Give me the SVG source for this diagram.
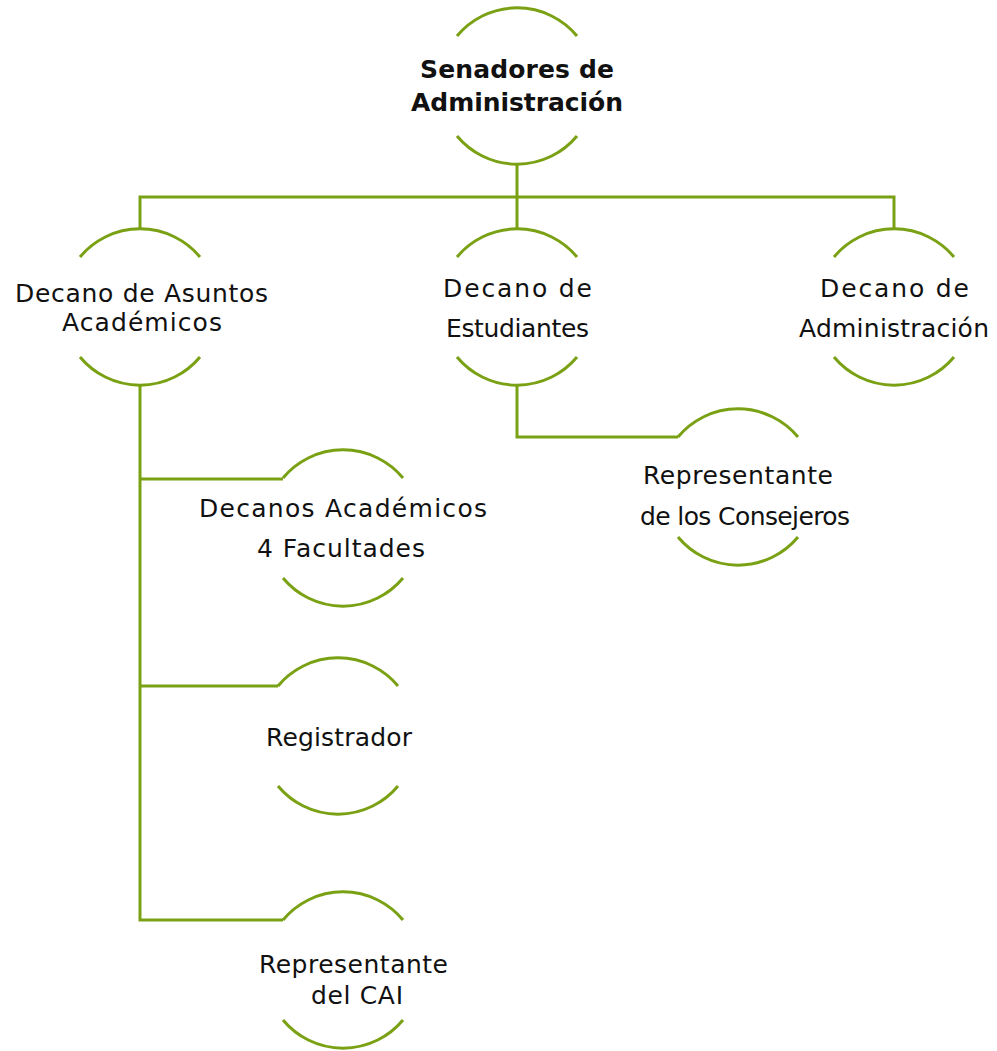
<svg xmlns="http://www.w3.org/2000/svg" width="997" height="1051" viewBox="0 0 997 1051">
<style>
.arc{fill:none;stroke:#79A113;stroke-width:3}
.con{fill:none;stroke:#79A113;stroke-width:3}
text{font-family:"DejaVu Sans","Liberation Sans",sans-serif;font-size:25px;fill:#111;text-anchor:middle}
.b{font-weight:bold;font-size:25px}
</style>
<rect width="997" height="1051" fill="#fff"/>
<defs>
<path id="circ" d="M-60,-50 A78,78 0 0 1 60,-50 M-60,50 A78,78 0 0 0 60,50"/>
</defs>
<g id="connectors">
<path class="con" d="M517,165 V197 M140,229 V197 H894 V229 M517,197 V229"/>
<path class="con" d="M140,384 V920 H283 M140,479 H283 M140,686 H278"/>
<path class="con" d="M517,385 V437 H678"/>
</g>
<g id="n-senadores"><use href="#circ" class="arc" x="517" y="86"/><text class="b" x="517" y="78" textLength="194" lengthAdjust="spacing">Senadores de</text><text class="b" x="517" y="111" textLength="212" lengthAdjust="spacing">Administración</text></g>
<g id="n-asuntos"><use href="#circ" class="arc" x="140" y="307"/><text x="141.5" y="302" textLength="253" lengthAdjust="spacing">Decano de Asuntos</text><text x="142" y="331" textLength="160" lengthAdjust="spacing">Académicos</text></g>
<g id="n-estudiantes"><use href="#circ" class="arc" x="517" y="307"/><text x="517.5" y="297" textLength="149" lengthAdjust="spacing">Decano de</text><text x="517.5" y="337" textLength="143" lengthAdjust="spacing">Estudiantes</text></g>
<g id="n-administracion"><use href="#circ" class="arc" x="894" y="307"/><text x="894.5" y="297" textLength="149" lengthAdjust="spacing">Decano de</text><text x="894" y="337" textLength="190" lengthAdjust="spacing">Administración</text></g>
<g id="n-consejeros"><use href="#circ" class="arc" x="738" y="487"/><text x="738" y="484" textLength="190" lengthAdjust="spacing">Representante</text><text x="745" y="525" textLength="210" lengthAdjust="spacing">de los Consejeros</text></g>
<g id="n-decanos"><use href="#circ" class="arc" x="343" y="528"/><text x="343" y="517" textLength="288" lengthAdjust="spacing">Decanos Académicos</text><text x="341" y="557" textLength="168" lengthAdjust="spacing">4 Facultades</text></g>
<g id="n-registrador"><use href="#circ" class="arc" x="338" y="736"/><text x="339" y="746" textLength="146" lengthAdjust="spacing">Registrador</text></g>
<g id="n-cai"><use href="#circ" class="arc" x="343" y="970"/><text x="353.5" y="973" textLength="189" lengthAdjust="spacing">Representante</text><text x="357" y="1004" textLength="92" lengthAdjust="spacing">del CAI</text></g>
</svg>
